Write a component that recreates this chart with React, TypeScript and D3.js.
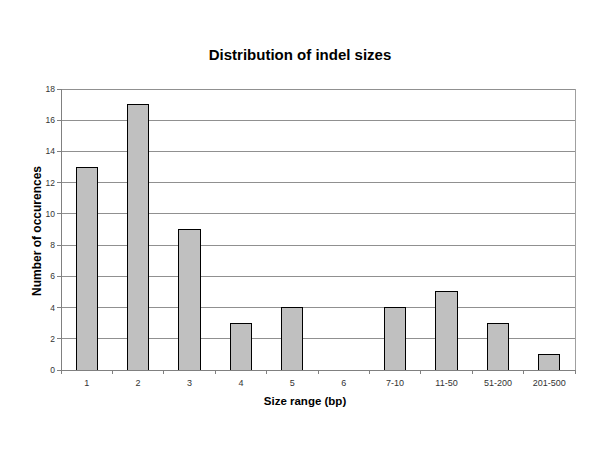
import React from "react";
import * as d3 from "d3";

const categories = ["1", "2", "3", "4", "5", "6", "7-10", "11-50", "51-200", "201-500"];
const counts = [13, 17, 9, 3, 4, 0, 4, 5, 3, 1];
const yTicks = [0, 2, 4, 6, 8, 10, 12, 14, 16, 18];

export default function App() {
  const W = 600, H = 450;
  const left = 61, right = 575, top = 89, bottom = 370;
  const x = d3.scaleBand<string>().domain(categories).range([left, right]).paddingInner(0).paddingOuter(0);
  const y = d3.scaleLinear().domain([0, 18]).range([bottom, top]);
  const bw = x.bandwidth() * 0.41;
  const font = "Arial, 'Liberation Sans', sans-serif";
  return (
    <svg width={W} height={H} style={{ position: "absolute", left: 0, top: 0, background: "#fff" }} fontFamily={font}>
      <rect x={0} y={0} width={W} height={H} fill="#fff" />
      <text x={300} y={60} textAnchor="middle" fontSize={15} fontWeight="bold">Distribution of indel sizes</text>
      {yTicks.map((t) => (
        <g key={t}>
          {t > 0 && <line x1={left} x2={right} y1={y(t)} y2={y(t)} stroke="#909090" strokeWidth={1} shapeRendering="crispEdges" />}
          <line x1={left - 4} x2={left} y1={y(t)} y2={y(t)} stroke="#808080" shapeRendering="crispEdges" />
          <text x={left - 6} y={y(t) + 3} textAnchor="end" fontSize={8.5} fill="#333">{t}</text>
        </g>
      ))}
      <line x1={right} x2={right} y1={top} y2={bottom} stroke="#a0a0a0" shapeRendering="crispEdges" />
      {categories.map((c, i) => (
        <g key={c}>
          <rect
            x={(x(c) as number) + (x.bandwidth() - bw) / 2}
            y={y(counts[i])}
            width={bw}
            height={bottom - y(counts[i])}
            fill="#c0c0c0"
            stroke="#000"
            strokeWidth={1}
            shapeRendering="crispEdges"
            style={{ display: counts[i] > 0 ? undefined : "none" }}
          />
          <text x={(x(c) as number) + x.bandwidth() / 2} y={386} textAnchor="middle" fontSize={9} fill="#333">{c}</text>
        </g>
      ))}
      {categories.concat([""]).map((_, i) => {
        const xx = left + i * x.bandwidth();
        return <line key={i} x1={xx} x2={xx} y1={bottom} y2={bottom + 4} stroke="#808080" shapeRendering="crispEdges" />;
      })}
      <line x1={left} x2={left} y1={top} y2={bottom} stroke="#808080" shapeRendering="crispEdges" />
      <line x1={left} x2={right} y1={bottom} y2={bottom} stroke="#808080" shapeRendering="crispEdges" />
      <text x={305} y={405} textAnchor="middle" fontSize={11.5} fontWeight="bold">Size range (bp)</text>
      <text transform={`translate(41,231) rotate(-90)`} textAnchor="middle" fontSize={12} fontWeight="bold">Number of occurences</text>
    </svg>
  );
}
